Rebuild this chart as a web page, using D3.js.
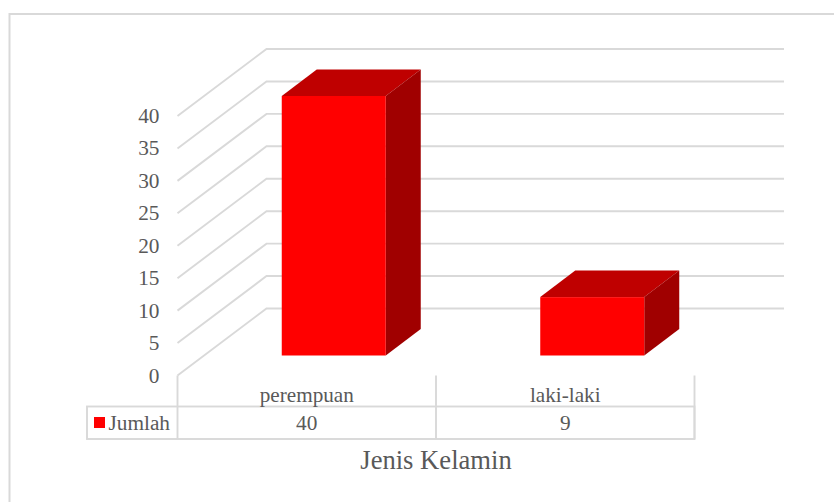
<!DOCTYPE html>
<html>
<head>
<meta charset="utf-8">
<title>Jenis Kelamin</title>
<script src="https://d3js.org/d3.v7.min.js"></script>
<style>
	html, body { margin: 0; padding: 0; background: #fff; }
	svg { display: block; }
	text { font-family: "Liberation Serif", serif; fill: #595959; }
</style>
</head>
<body>
<div id="chart"></div>
<script>
var categories = ["perempuan", "laki-laki"];
var values = [40, 9];
var yTicks = [0, 5, 10, 15, 20, 25, 30, 35, 40];
var seriesName = "Jumlah";
var axisTitle = "Jenis Kelamin";

var width = 834, height = 502;
var gridColor = "#d9d9d9";

// depth of the 3d walls
var wallDx = 89, wallDy = -67;
var barDx = 35, barDy = -26.5;

var svg = d3.select("#chart").append("svg")
	.attr("width", width)
	.attr("height", height);

// outer frame
svg.append("path")
	.attr("d", "M9.5,502V14H834")
	.attr("fill", "none")
	.attr("stroke", gridColor)
	.attr("stroke-width", 2);

var y = d3.scaleLinear().domain([0, 40]).range([375.5, 116]);
var x = d3.scaleBand().domain(categories).range([177.5, 694.5]);

// gridlines, front edge then along the back wall
svg.append("g").selectAll("path")
	.data(yTicks)
	.enter()
	.append("path")
	.attr("d", function(d) {
		var p = d3.path();
		p.moveTo(177.5, y(d));
		p.lineTo(177.5 + wallDx, y(d) + wallDy);
		p.lineTo(784, y(d) + wallDy);
		return p.toString();
	})
	.attr("fill", "none")
	.attr("stroke", gridColor)
	.attr("stroke-width", 1.9);

// tick labels
svg.append("g").selectAll("text")
	.data(yTicks)
	.enter()
	.append("text")
	.attr("x", 159.5)
	.attr("y", function(d) { return y(d) + 7; })
	.attr("text-anchor", "end")
	.style("font-size", "21.3px")
	.text(function(d) { return d; });

// bars
var barW = 104;
var barBase = y(0) - 20;
var unit = (y(0) - y(40)) / 40;

var bars = svg.append("g").selectAll("g")
	.data(categories)
	.enter()
	.append("g")
	.attr("transform", function(d) {
		return "translate(" + (x(d) + (x.bandwidth() - barW) / 2 + 27) + "," + barBase + ")";
	});

bars.append("path")
	.attr("fill", "#bf0000")
	.attr("d", function(d, i) {
		var h = values[i] * unit;
		return "M0," + (-h) + "L" + barDx + "," + (-h + barDy) + "L" + (barW + barDx) + "," + (-h + barDy) + "L" + barW + "," + (-h) + "Z";
	});
bars.append("path")
	.attr("fill", "#a00000")
	.attr("d", function(d, i) {
		var h = values[i] * unit;
		return "M" + barW + ",0L" + (barW + barDx) + "," + barDy + "L" + (barW + barDx) + "," + (-h + barDy) + "L" + barW + "," + (-h) + "Z";
	});
bars.append("rect")
	.attr("fill", "#ff0000")
	.attr("x", 0)
	.attr("y", function(d, i) { return -values[i] * unit; })
	.attr("width", barW)
	.attr("height", function(d, i) { return values[i] * unit; });

// data table
var tableTop = 406.5, tableBottom = 439;
var table = svg.append("g")
	.attr("fill", "none")
	.attr("stroke", gridColor)
	.attr("stroke-width", 1.9);
table.append("rect")
	.attr("x", 87).attr("y", tableTop)
	.attr("width", 694.5 - 87).attr("height", tableBottom - tableTop);
x.domain().concat(["end"]).forEach(function(d, i) {
	var px = i < categories.length ? x(d) : x.range()[1];
	table.append("line")
		.attr("x1", px).attr("x2", px)
		.attr("y1", y(0)).attr("y2", tableBottom);
});

// category labels and values
svg.append("g").selectAll("text")
	.data(categories)
	.enter()
	.append("text")
	.attr("x", function(d) { return x(d) + x.bandwidth() / 2; })
	.attr("y", 402)
	.attr("text-anchor", "middle")
	.style("font-size", "21.2px")
	.text(function(d) { return d; });

svg.append("g").selectAll("text")
	.data(values)
	.enter()
	.append("text")
	.attr("x", function(d, i) { return x(categories[i]) + x.bandwidth() / 2; })
	.attr("y", 430)
	.attr("text-anchor", "middle")
	.style("font-size", "21.3px")
	.text(function(d) { return d; });

// legend key inside the table
svg.append("rect")
	.attr("x", 94).attr("y", 417)
	.attr("width", 11).attr("height", 11)
	.attr("fill", "#ff0000");
svg.append("text")
	.attr("x", 108.5).attr("y", 429.5)
	.style("font-size", "21.3px")
	.text(seriesName);

// axis title
svg.append("text")
	.attr("x", 436).attr("y", 469)
	.attr("text-anchor", "middle")
	.style("font-size", "26.6px")
	.text(axisTitle);
</script>
</body>
</html>
